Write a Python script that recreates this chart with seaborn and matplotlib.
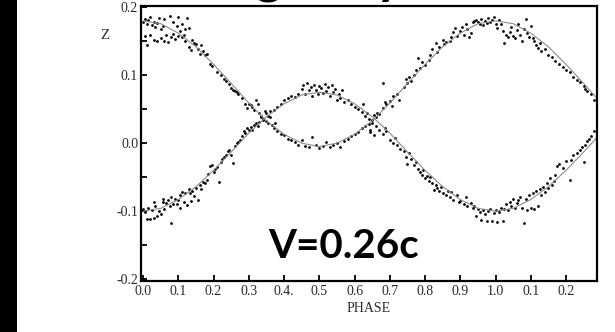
import matplotlib
matplotlib.use("Agg")
import matplotlib.pyplot as plt
from matplotlib.patches import Rectangle
from matplotlib.ticker import MultipleLocator, FixedLocator, FixedFormatter
import pandas as pd
import seaborn as sns

# fitted curves (phase 0.00 .. 1.30, step 0.05)
fit_phase = [0.00, 0.05, 0.10, 0.15, 0.20, 0.25, 0.30, 0.35, 0.40, 0.45, 0.50, 0.55, 0.60,
             0.65, 0.70, 0.75, 0.80, 0.85, 0.90, 0.95, 1.00, 1.05, 1.10, 1.15, 1.20, 1.25, 1.30]
fit_a = [0.180, 0.176, 0.162, 0.142, 0.116, 0.088, 0.059, 0.033, 0.013, 0.000, -0.005, 0.000, 0.013,
         0.033, 0.059, 0.088, 0.116, 0.142, 0.162, 0.176, 0.180, 0.176, 0.162, 0.142, 0.116, 0.088, 0.059]
fit_b = [-0.100, -0.096, -0.083, -0.064, -0.040, -0.013, 0.015, 0.039, 0.058, 0.071, 0.075, 0.071, 0.058,
         0.039, 0.015, -0.013, -0.040, -0.064, -0.083, -0.096, -0.100, -0.096, -0.083, -0.064, -0.040, -0.013, 0.015]

# observed points, component A (high at phase 0)
a_points = [
    (0.00, 0.178), (0.005, 0.183), (0.01, 0.176), (0.015, 0.181), (0.02, 0.186), (0.025, 0.174),
    (0.03, 0.179), (0.035, 0.171), (0.04, 0.177), (0.045, 0.184), (0.05, 0.168), (0.055, 0.172),
    (0.005, 0.158), (0.01, 0.145), (0.02, 0.160), (0.03, 0.152), (0.04, 0.150), (0.05, 0.155),
    (0.06, 0.151), (0.065, 0.160), (0.07, 0.149), (0.08, 0.156), (0.085, 0.161), (0.09, 0.153),
    (0.10, 0.158), (0.105, 0.165), (0.11, 0.156), (0.115, 0.160), (0.12, 0.150),
    (0.06, 0.183), (0.075, 0.187), (0.085, 0.178), (0.095, 0.172), (0.10, 0.186), (0.11, 0.176),
    (0.12, 0.168), (0.125, 0.184), (0.13, 0.170), (0.14, 0.152), (0.145, 0.147),
    (0.13, 0.142), (0.135, 0.137), (0.15, 0.146), (0.155, 0.139), (0.16, 0.132), (0.165, 0.144),
    (0.17, 0.136), (0.175, 0.130), (0.18, 0.131),
    (0.19, 0.116), (0.195, 0.114), (0.21, 0.105), (0.22, 0.100), (0.23, 0.094), (0.235, 0.092),
    (0.245, 0.087), (0.25, 0.081), (0.255, 0.079), (0.26, 0.077), (0.265, 0.075), (0.27, 0.073),
    (0.28, 0.066), (0.29, 0.058), (0.295, 0.052),
    (0.30, 0.057), (0.305, 0.056), (0.31, 0.054), (0.315, 0.049), (0.32, 0.063), (0.325, 0.058),
    (0.33, 0.044), (0.335, 0.040), (0.34, 0.036), (0.345, 0.047), (0.35, 0.032), (0.355, 0.029),
    (0.36, 0.038), (0.365, 0.027), (0.37, 0.022), (0.375, 0.030), (0.38, 0.018), (0.39, 0.014),
    (0.40, 0.012), (0.41, 0.006),
    (0.42, 0.004), (0.43, 0.001), (0.44, -0.002), (0.45, 0.005), (0.46, -0.004), (0.47, -0.006),
    (0.48, 0.009), (0.49, -0.003), (0.50, -0.007), (0.51, -0.004), (0.52, 0.002), (0.53, -0.006),
    (0.54, -0.002), (0.55, 0.000), (0.56, -0.005), (0.57, 0.003), (0.58, 0.006), (0.59, 0.010),
    (0.60, 0.014), (0.61, 0.017), (0.62, 0.022), (0.63, 0.025), (0.64, 0.028), (0.645, 0.020),
    (0.65, 0.034), (0.655, 0.041), (0.66, 0.038), (0.665, 0.045), (0.67, 0.043), (0.68, 0.052),
    (0.685, 0.060), (0.69, 0.057), (0.70, 0.062), (0.705, 0.055), (0.71, 0.069), (0.72, 0.072),
    (0.725, 0.064), (0.68, 0.088),
    (0.74, 0.082), (0.745, 0.095), (0.75, 0.089), (0.755, 0.097), (0.76, 0.092), (0.77, 0.101),
    (0.775, 0.108), (0.78, 0.125), (0.785, 0.111), (0.79, 0.119), (0.80, 0.115), (0.81, 0.123),
    (0.815, 0.130), (0.82, 0.138), (0.83, 0.147), (0.835, 0.134), (0.84, 0.141), (0.85, 0.152),
    (0.855, 0.146), (0.86, 0.149), (0.87, 0.150), (0.875, 0.157),
    (0.88, 0.163), (0.885, 0.170), (0.89, 0.158), (0.90, 0.165), (0.905, 0.171), (0.91, 0.160),
    (0.915, 0.175), (0.92, 0.168), (0.925, 0.157), (0.93, 0.162), (0.935, 0.178), (0.94, 0.180),
    (0.945, 0.182), (0.95, 0.179), (0.955, 0.176), (0.96, 0.183), (0.965, 0.174), (0.97, 0.180),
    (0.975, 0.177), (0.98, 0.184), (0.985, 0.178), (0.99, 0.181), (0.995, 0.186), (1.00, 0.176),
    (1.005, 0.170), (1.01, 0.182), (1.015, 0.175), (1.02, 0.165), (1.025, 0.148), (1.03, 0.160),
    (1.035, 0.156), (1.04, 0.163), (1.045, 0.171), (1.05, 0.158), (1.055, 0.155), (1.06, 0.166),
    (1.065, 0.176), (1.07, 0.160), (1.075, 0.151), (1.08, 0.168), (1.085, 0.183), (1.09, 0.162),
    (1.095, 0.157), (1.10, 0.172), (1.105, 0.155), (1.11, 0.151), (1.115, 0.145), (1.12, 0.140),
    (1.125, 0.148), (1.13, 0.136),
    (1.14, 0.138), (1.15, 0.130), (1.16, 0.127), (1.17, 0.121), (1.18, 0.117), (1.19, 0.112),
    (1.20, 0.108), (1.21, 0.105), (1.22, 0.097), (1.23, 0.093), (1.24, 0.090), (1.25, 0.084),
    (1.255, 0.080), (1.26, 0.077), (1.27, 0.072), (1.28, 0.064),
]

# observed points, component B (low at phase 0)
b_points = [
    (0.00, -0.097), (0.005, -0.101), (0.01, -0.112), (0.015, -0.095), (0.02, -0.111), (0.025, -0.098),
    (0.03, -0.110), (0.035, -0.093), (0.04, -0.108), (0.045, -0.100), (0.05, -0.104), (0.055, -0.086),
    (0.06, -0.097), (0.065, -0.088), (0.07, -0.083), (0.075, -0.092), (0.08, -0.079), (0.085, -0.090),
    (0.09, -0.082), (0.095, -0.089), (0.10, -0.084), (0.105, -0.095), (0.11, -0.072), (0.115, -0.087),
    (0.12, -0.073), (0.125, -0.091), (0.13, -0.068), (0.135, -0.085), (0.14, -0.070), (0.145, -0.078),
    (0.15, -0.066), (0.155, -0.083), (0.16, -0.061), (0.165, -0.068), (0.17, -0.057), (0.175, -0.059),
    (0.18, -0.054), (0.08, -0.117), (0.03, -0.087), (0.057, -0.082), (0.105, -0.076), (0.133, -0.074),
    (0.185, -0.046), (0.19, -0.033), (0.195, -0.032), (0.20, -0.042), (0.205, -0.038), (0.21, -0.035),
    (0.215, -0.057), (0.22, -0.028), (0.225, -0.024), (0.23, -0.020), (0.235, -0.017), (0.24, -0.012),
    (0.245, -0.010), (0.25, -0.018), (0.255, -0.029), (0.26, -0.004), (0.265, 0.000), (0.27, 0.002),
    (0.275, 0.005),
    (0.28, 0.010), (0.285, 0.018), (0.29, 0.015), (0.295, 0.022), (0.30, 0.020), (0.305, 0.024),
    (0.31, 0.019), (0.315, 0.027), (0.32, 0.030), (0.325, 0.026), (0.33, 0.031), (0.335, 0.038),
    (0.34, 0.034), (0.35, 0.044), (0.355, 0.040), (0.36, 0.047), (0.37, 0.049), (0.38, 0.054),
    (0.39, 0.058), (0.40, 0.063), (0.41, 0.066), (0.42, 0.070), (0.43, 0.068), (0.44, 0.073),
    (0.45, 0.080), (0.455, 0.085), (0.46, 0.072), (0.465, 0.088), (0.47, 0.078), (0.475, 0.083),
    (0.48, 0.070), (0.485, 0.086), (0.49, 0.079), (0.495, 0.073), (0.50, 0.084), (0.505, 0.081),
    (0.51, 0.074), (0.515, 0.087), (0.52, 0.077), (0.525, 0.082), (0.53, 0.069), (0.535, 0.085),
    (0.54, 0.075), (0.545, 0.080), (0.55, 0.064), (0.555, 0.072), (0.56, 0.066), (0.565, 0.078),
    (0.57, 0.061), (0.58, 0.063), (0.59, 0.058), (0.60, 0.054),
    (0.61, 0.050), (0.62, 0.046), (0.625, 0.058), (0.63, 0.040), (0.635, 0.044), (0.64, 0.036),
    (0.645, 0.016), (0.65, 0.030), (0.655, 0.012), (0.66, 0.026), (0.67, 0.020), (0.68, 0.013),
    (0.685, 0.022), (0.69, 0.018), (0.70, 0.004), (0.71, 0.000), (0.715, 0.007), (0.72, -0.002),
    (0.73, -0.008),
    (0.74, -0.012), (0.745, -0.020), (0.75, -0.030), (0.755, -0.015), (0.76, -0.024), (0.77, -0.032),
    (0.775, -0.027), (0.78, -0.038), (0.785, -0.043), (0.79, -0.047), (0.795, -0.040), (0.80, -0.052),
    (0.805, -0.048), (0.81, -0.055), (0.815, -0.050), (0.82, -0.058), (0.825, -0.069), (0.83, -0.062),
    (0.835, -0.066), (0.84, -0.071), (0.845, -0.065), (0.85, -0.073), (0.86, -0.076), (0.865, -0.070),
    (0.87, -0.080), (0.875, -0.072), (0.88, -0.083), (0.89, -0.077), (0.895, -0.087), (0.90, -0.085),
    (0.91, -0.090), (0.915, -0.080), (0.92, -0.093), (0.93, -0.088), (0.935, -0.096), (0.94, -0.092),
    (0.945, -0.108),
    (0.95, -0.097), (0.955, -0.102), (0.96, -0.113), (0.965, -0.099), (0.97, -0.104), (0.975, -0.114),
    (0.98, -0.100), (0.985, -0.097), (0.99, -0.115), (0.995, -0.103), (1.00, -0.099), (1.005, -0.116),
    (1.01, -0.101), (1.015, -0.095), (1.02, -0.114), (1.025, -0.097), (1.03, -0.090), (1.035, -0.099),
    (1.04, -0.086), (1.045, -0.093), (1.05, -0.082), (1.055, -0.095), (1.06, -0.088), (1.065, -0.084),
    (1.07, -0.079), (1.075, -0.096), (1.08, -0.117), (1.085, -0.082), (1.09, -0.098), (1.095, -0.077),
    (1.10, -0.095), (1.105, -0.074), (1.11, -0.097), (1.115, -0.070), (1.12, -0.093), (1.125, -0.068),
    (1.13, -0.077), (1.135, -0.064), (1.14, -0.072), (1.145, -0.058), (1.15, -0.066), (1.155, -0.051),
    (1.16, -0.062), (1.165, -0.055), (1.17, -0.047), (1.175, -0.034), (1.18, -0.030), (1.19, -0.037),
    (1.20, -0.026), (1.21, -0.054), (1.215, -0.025), (1.22, -0.018), (1.23, -0.015), (1.24, -0.010),
    (1.245, -0.006), (1.25, -0.028), (1.255, -0.002), (1.26, 0.003), (1.265, 0.006), (1.27, 0.010),
    (1.28, 0.018),
]

x_ticks = [0.0, 0.1, 0.2, 0.3, 0.4, 0.5, 0.6, 0.7, 0.8, 0.9, 1.0, 1.1, 1.2]
x_labels = ["0.0", "0.1", "0.2", "0.3", "0.4.", "0.5", "0.6", "0.7", "0.8", "0.9", "1.0", "0.1", "0.2"]
y_ticks = [-0.2, -0.1, 0.0, 0.1, 0.2]
y_labels = ["-0.2", "-0.1", "0.0", "0.1", "0.2"]

fits = pd.DataFrame({"phase": fit_phase * 2, "z": fit_a + fit_b,
                     "comp": ["A"] * len(fit_a) + ["B"] * len(fit_b)})
pts = pd.DataFrame(a_points + b_points, columns=["phase", "z"])

sns.set_theme(style="ticks")
plt.rcParams["font.family"] = ["Liberation Serif", "DejaVu Serif"]

fig = plt.figure(figsize=(6.15, 3.32), dpi=100)
ax = fig.add_axes([0.2293, 0.1536, 0.7415, 0.8283])

sns.lineplot(data=fits, x="phase", y="z", units="comp", estimator=None, sort=False,
             color="#8c8c8c", lw=0.8, ax=ax)
sns.scatterplot(data=pts, x="phase", y="z", color="black", s=4, linewidth=0, ax=ax)

ax.set_xlim(-0.006, 1.288)
ax.set_ylim(-0.203, 0.202)
ax.xaxis.set_major_locator(FixedLocator(x_ticks))
ax.xaxis.set_major_formatter(FixedFormatter(x_labels))
ax.yaxis.set_major_locator(FixedLocator(y_ticks))
ax.yaxis.set_major_formatter(FixedFormatter(y_labels))
ax.yaxis.set_minor_locator(MultipleLocator(0.05))

ax.tick_params(which="both", direction="in", length=4, width=1.3, color="black",
               labelsize=10, labelcolor="#2a2a2a", top=False, right=False)
ax.tick_params(axis="x", pad=3)
ax.tick_params(axis="y", pad=2)
for s in ax.spines.values():
    s.set_linewidth(1.6)
    s.set_color("black")

ax.set_xlabel("PHASE", fontsize=10, color="#2a2a2a", labelpad=3)
ax.set_ylabel("")
ax.text(-0.108, 0.158, "Z", fontsize=11, color="#2a2a2a", ha="center", va="center")

ax.text(0.355, -0.169, "V=0.26c", fontsize=29, fontweight="bold", family=["Lato", "DejaVu Sans"],
        color="black", ha="left", va="baseline")

# heading sits above the visible area in the source, only its descenders show
fig.text(255 / 615, 1 + 7 / 332, "galaxy", fontsize=38, fontweight="bold",
         family=["Lato", "DejaVu Sans"], color="black", ha="left", va="baseline")

fig.add_artist(Rectangle((0, 0), 17 / 615, 1, transform=fig.transFigure,
                         facecolor="black", edgecolor="none"))

fig.savefig("out.png", dpi=100)
